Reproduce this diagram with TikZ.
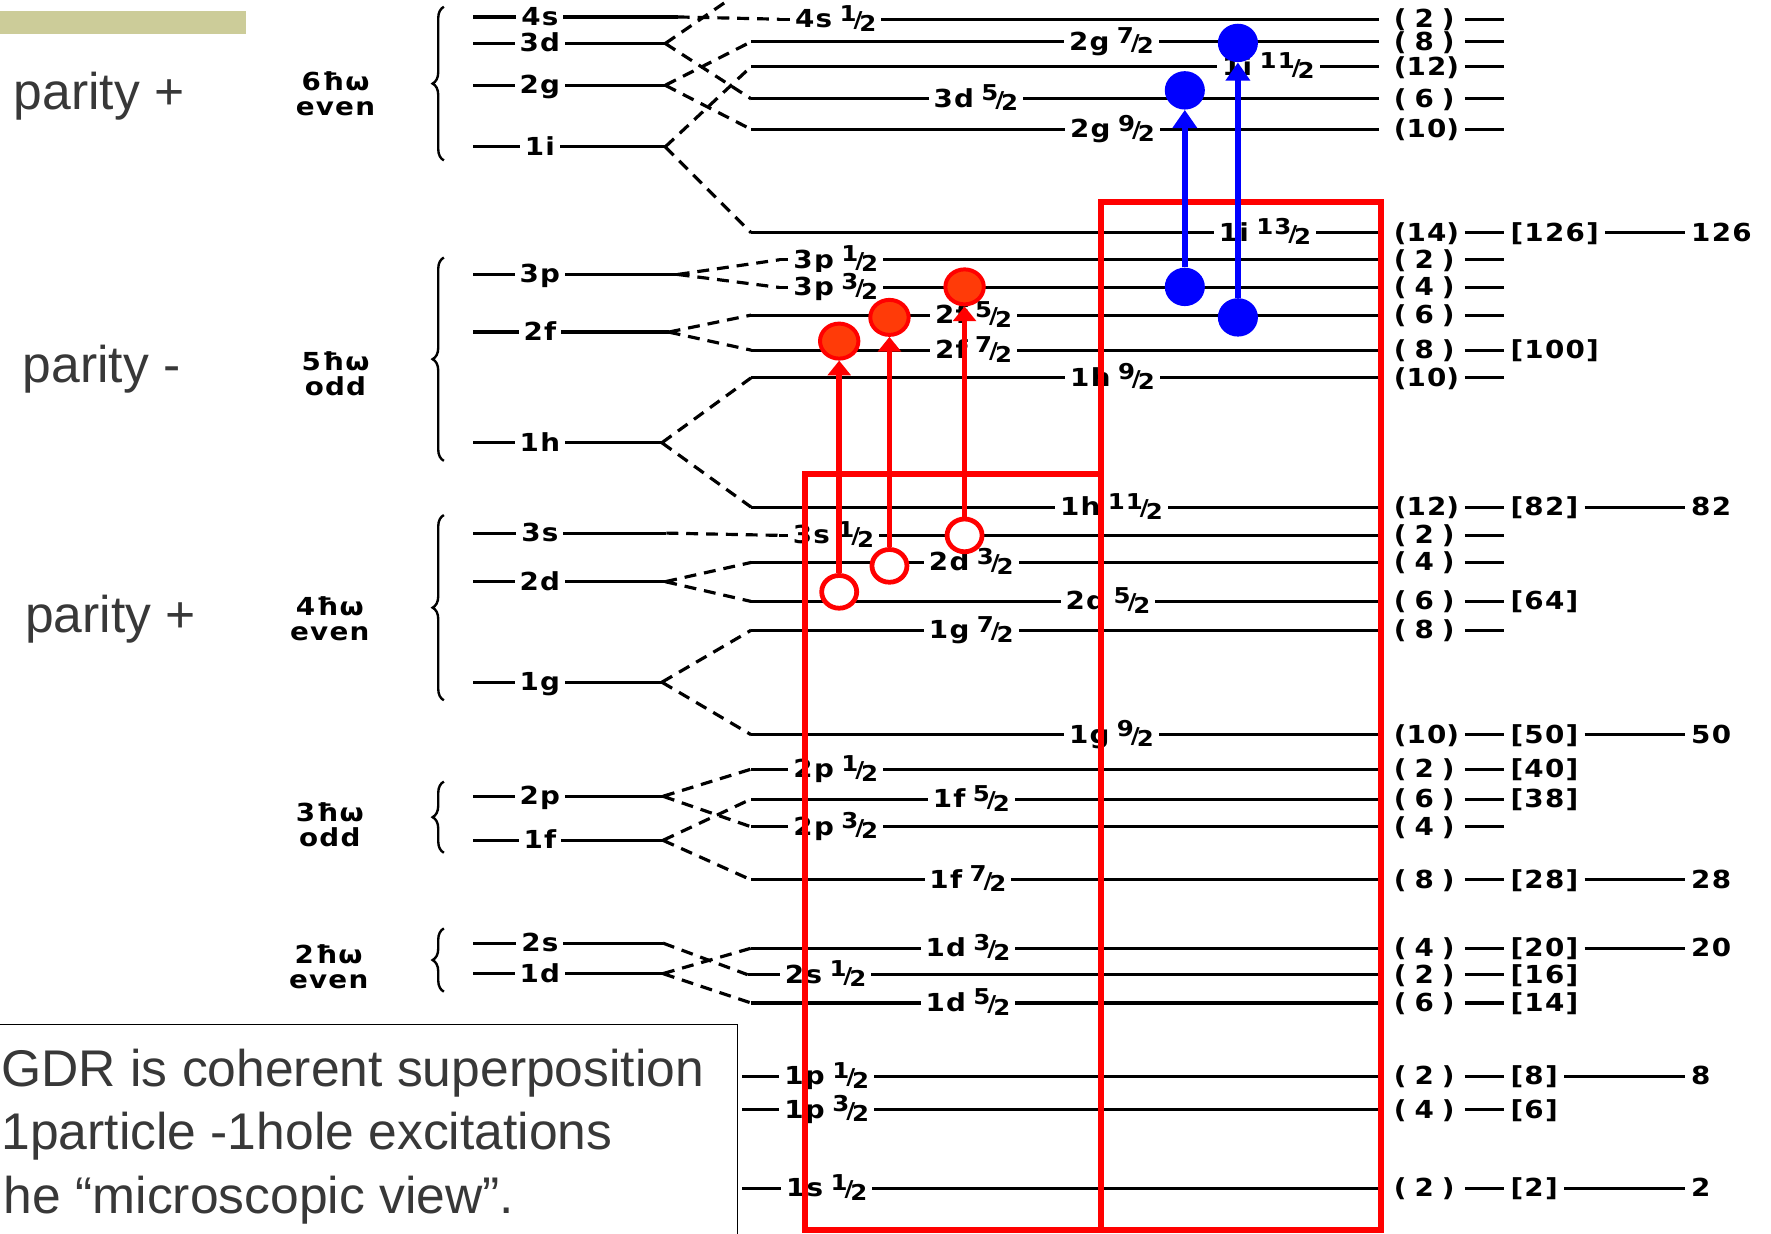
\documentclass[tikz,border=0pt]{standalone}
\usepackage{fontspec}
\usepackage{tikz}
\usetikzlibrary{shapes.geometric, arrows.meta, decorations.pathreplacing}
\newfontfamily\lvlfont[FakeStretch=1.12, LetterSpace=5]{DejaVu Sans Bold}
\newfontfamily\slidefont{Liberation Sans}
\definecolor{gdr-red}{HTML}{FF0000}
\definecolor{part-red}{HTML}{FF3B08}
\definecolor{gdr-blue}{HTML}{0000FF}
\definecolor{bar-olive}{HTML}{CCCC99}
\definecolor{slide-grey}{HTML}{383838}
\newcommand{\jf}[2]{%  \jf{num}{den}
  \hspace{.3em}{\fontsize{11}{11}\selectfont\raisebox{.55ex}{#1}\kern-.14em/\kern-.14em\raisebox{-.3ex}{#2}}}
\newcommand{\oslev}[4][589]{%  \oslev[x end]{name}{y}{label}
  \draw[lvl] (419,#3) -- (#1,#3) coordinate (#2);
  \node[lvllab] (#2l) at (478,#3) {#4};}
\newcommand{\splev}[6]{%  \splev{name}{y}{x start}{label x}{label}{2j+1}
  \draw[lvl] (#3,#2) coordinate (#1) -- (1221,#2);
  \node[lvllab] (#1l) at (#4,#2) {#5};
  \node[deglab] (#1n) at (1261,#2) {\makebox[2.45em][s]{(\hfill#6\hfill)}};
  \draw[lvl] (1297,#2) -- (1332,#2);}
\newcommand{\shellnum}[3]{%  \shellnum{name}{y}{N}
  \node[deglab, anchor=base west] (#1s) at (1337,#2) {[#3]};}
\newcommand{\magicnum}[3]{%  \magicnum{name}{y}{N}
  \node[deglab, anchor=base west] (#1m) at (1497,#2) {#3};
  \draw[lvl] ([xshift=3pt]#1s.east |- #1) -- ([xshift=-3pt]#1m.west |- #1);}

\begin{document}
\begin{tikzpicture}[x=0.02cm, y=-0.02cm,
    lvl/.style={line width=1.6pt},
    split/.style={line width=1.6pt, dash pattern=on 6pt off 4pt},
    lvllab/.style={font=\lvlfont\fontsize{12.5}{13}\selectfont, fill=white,
                   inner xsep=2.5pt, inner ysep=0.5pt, anchor=base, yshift=-0.15cm},
    deglab/.style={font=\lvlfont\fontsize{12.5}{13}\selectfont, inner sep=0pt,
                   anchor=base, yshift=-0.15cm},
    hwlab/.style={font=\lvlfont\fontsize{12.5}{12.5}\selectfont, align=center},
    brc/.style={decorate, decoration={brace, amplitude=0.2cm}, line width=1.2pt},
    parity/.style={font=\slidefont\fontsize{26}{30}\selectfont, text=slide-grey,
                   anchor=base west, inner sep=0pt},
    gdrtxt/.style={parity},
    gdrbox/.style={draw=gdr-red, line width=3pt},
    part/.style={ellipse, draw=gdr-red, line width=2pt, fill=part-red,
                 minimum width=0.68cm, minimum height=0.62cm, inner sep=0pt},
    hole/.style={ellipse, draw=gdr-red, line width=2.4pt, fill=white,
                 minimum width=0.62cm, minimum height=0.58cm, inner sep=0pt},
    bfull/.style={ellipse, fill=gdr-blue, minimum width=0.71cm,
                  minimum height=0.68cm, inner sep=0pt},
    redarr/.style={draw=gdr-red, line width=2.8pt, -{Triangle[length=0.26cm, width=0.4cm]}},
    bluearr/.style={draw=gdr-blue, line width=2.8pt, -{Triangle[length=0.32cm, width=0.42cm]}}]

  \useasboundingbox (0,0) rectangle (1568,1092);

  % ── slide decoration ──
  \fill[bar-olive] (0,10) rectangle (218,30);
  \node[parity] (par6) at (12,97) {parity +};
  \node[parity] (par5) at (20,339) {parity -};
  \node[parity] (par4) at (22,560) {parity +};

  % ── oscillator shells (left) ──
  \node[hwlab] (hw6) at (297,83) {6ħω\\even};
  \node[hwlab] (hw5) at (297,331) {5ħω\\odd};
  \node[hwlab] (hw4) at (292,548) {4ħω\\even};
  \node[hwlab] (hw3) at (292,730) {3ħω\\odd};
  \node[hwlab] (hw2) at (291,856) {2ħω\\even};
  \draw[brc] (393,142) -- (393,6);
  \draw[brc] (393,408) -- (393,228);
  \draw[brc] (393,620) -- (393,456);
  \draw[brc] (393,755) -- (393,692);
  \draw[brc] (393,878) -- (393,822);

  \oslev[600]{L4s}{15}{4s}
  \oslev{L3d}{38.5}{3d}
  \oslev{L2g}{75.5}{2g}
  \oslev{L1i}{130}{1i}
  \oslev[600]{L3p}{243}{3p}
  \oslev[592]{L2f}{294}{2f}
  \oslev[586]{L1h}{392}{1h}
  \oslev[590]{L3s}{472}{3s}
  \oslev{L2d}{515}{2d}
  \oslev[586]{L1g}{604}{1g}
  \oslev[587]{L2p}{705}{2p}
  \oslev[587]{L1f}{744}{1f}
  \oslev[587]{L2s}{835}{2s}
  \oslev[587]{L1d}{862}{1d}

  % ── spin-orbit levels (right) ──
  \splev{R4s1}{17}{690}{740}{4s\jf{1}{2}}{2}
  \splev{R2g7}{37}{665}{984}{2g\jf{7}{2}}{8}
  \splev{R1i11}{59}{665}{1123}{1i\jf{11}{2}}{12}
  \splev{R3d5}{87.5}{665}{864}{3d\jf{5}{2}}{6}
  \splev{R2g9}{114.5}{665}{985}{2g\jf{9}{2}}{10}
  \splev{R1i13}{206}{665}{1120}{1i\jf{13}{2}}{14}
  \splev{R3p1}{230}{690}{740}{3p\jf{1}{2}}{2}
  \splev{R3p3}{254.5}{690}{740}{3p\jf{3}{2}}{4}
  \splev{R2f5}{279}{665}{862}{2f\jf{5}{2}}{6}
  \splev{R2f7}{310}{665}{862}{2f\jf{7}{2}}{8}
  \splev{R1h9}{334.5}{665}{985}{1h\jf{9}{2}}{10}
  \splev{R1h11}{449}{665}{984}{1h\jf{11}{2}}{12}
  \splev{R3s1}{474}{690}{738}{3s\jf{1}{2}}{2}
  \splev{R2d3}{498}{665}{860}{2d\jf{3}{2}}{4}
  \splev{R2d5}{532.5}{665}{981}{2d\jf{5}{2}}{6}
  \splev{R1g7}{558}{665}{860}{1g\jf{7}{2}}{8}
  \splev{R1g9}{650.5}{665}{984}{1g\jf{9}{2}}{10}
  \splev{R2p1}{681}{665}{740}{2p\jf{1}{2}}{2}
  \splev{R1f5}{707.5}{665}{860}{1f\jf{5}{2}}{6}
  \splev{R2p3}{732}{665}{740}{2p\jf{3}{2}}{4}
  \splev{R1f7}{779}{665}{857}{1f\jf{7}{2}}{8}
  \splev{R1d3}{839.5}{665}{857}{1d\jf{3}{2}}{4}
  \splev{R2s1}{863}{662}{731}{2s\jf{1}{2}}{2}
  \splev{R1d5}{888}{665}{857}{1d\jf{5}{2}}{6}
  \splev{R1p1}{953}{657}{732}{1p\jf{1}{2}}{2}
  \splev{R1p3}{982.5}{657}{732}{1p\jf{3}{2}}{4}
  \splev{R1s1}{1052}{657}{732}{1s\jf{1}{2}}{2}

  % ── closed shells and magic numbers ──
  \shellnum{R1i13}{206}{126}\magicnum{R1i13}{206}{126}
  \shellnum{R2f7}{310}{100}
  \shellnum{R1h11}{449}{82}\magicnum{R1h11}{449}{82}
  \shellnum{R2d5}{532.5}{64}
  \shellnum{R1g9}{650.5}{50}\magicnum{R1g9}{650.5}{50}
  \shellnum{R2p1}{681}{40}
  \shellnum{R1f5}{707.5}{38}
  \shellnum{R1f7}{779}{28}\magicnum{R1f7}{779}{28}
  \shellnum{R1d3}{839.5}{20}\magicnum{R1d3}{839.5}{20}
  \shellnum{R2s1}{863}{16}
  \shellnum{R1d5}{888}{14}
  \shellnum{R1p1}{953}{8}\magicnum{R1p1}{953}{8}
  \shellnum{R1p3}{982.5}{6}
  \shellnum{R1s1}{1052}{2}\magicnum{R1s1}{1052}{2}

  % ── spin-orbit splitting (dashed) ──
  \coordinate (up3d) at (645,0);
  \draw[split] (L4s) -- (R4s1);
  \draw[split] (L3d) -- (up3d) (L3d) -- (R3d5);
  \draw[split] (L2g) -- (R2g7) (L2g) -- (R2g9);
  \draw[split] (L1i) -- (R1i11) (L1i) -- (R1i13);
  \draw[split] (L3p) -- (R3p1) (L3p) -- (R3p3);
  \draw[split] (L2f) -- (R2f5) (L2f) -- (R2f7);
  \draw[split] (L1h) -- (R1h9) (L1h) -- (R1h11);
  \draw[split] (L3s) -- (R3s1);
  \draw[split] (L2d) -- (R2d3) (L2d) -- (R2d5);
  \draw[split] (L1g) -- (R1g7) (L1g) -- (R1g9);
  \draw[split] (L2p) -- (R2p1) (L2p) -- (R2p3);
  \draw[split] (L1f) -- (R1f5) (L1f) -- (R1f7);
  \draw[split] (L2s) -- (R2s1);
  \draw[split] (L1d) -- (R1d3) (L1d) -- (R1d5);

  % ── major shells ──
  \draw[gdrbox] (713,420) rectangle (975,1089);
  \draw[gdrbox] (975,179) rectangle (1223,1089);

  % ── 1p-1h excitations ──
  \node[hole] (h1) at (743,524) {};
  \node[hole] (h2) at (787.5,501) {};
  \node[hole] (h3) at (854,474) {};
  \node[part] (p1) at (743,302) {};
  \node[part] (p2) at (787.5,281) {};
  \node[part] (p3) at (854,254) {};
  \draw[redarr] (h1) -- (p1);
  \draw[redarr] (h2) -- (p2);
  \draw[redarr] (h3) -- (p3);

  \node[bfull] (bh1) at (1049,254) {};
  \node[bfull] (bh2) at (1096,281) {};
  \node[bfull] (bp1) at (1049,80) {};
  \node[bfull] (bp2) at (1096,38) {};
  \draw[bluearr] (bh1) -- (bp1);
  \draw[bluearr] (bh2) -- (bp2);

  % ── text box ──
  \draw[line width=0.9pt, fill=white] (-10,907) rectangle (653,1110);
  \node[gdrtxt] (gdr1) at (1,962) {GDR is coherent superposition};
  \node[gdrtxt] (gdr2) at (1,1018) {1particle -1hole excitations};
  \node[gdrtxt] (gdr3) at (3,1074) {he “microscopic view”.};
\end{tikzpicture}
\end{document}
